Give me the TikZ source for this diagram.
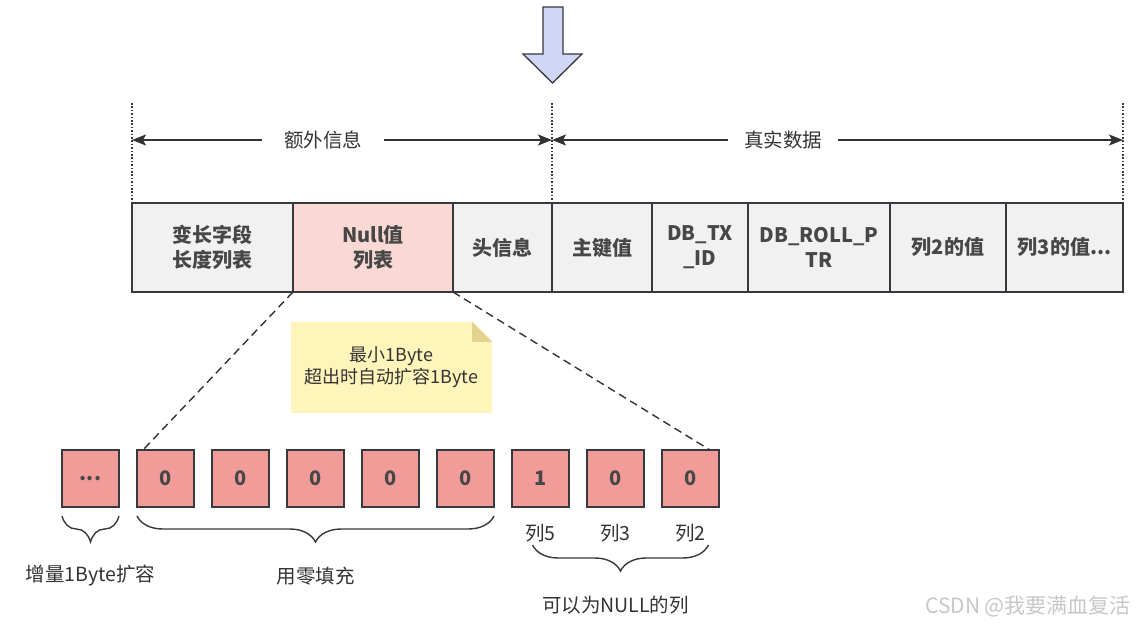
\documentclass[tikz,border=0pt]{standalone}
\usepackage{fontspec}
\setmainfont{Noto Sans CJK SC}
\usetikzlibrary{positioning,arrows.meta,decorations.pathreplacing}
\definecolor{edge}{HTML}{36393D}
\definecolor{cellgray}{HTML}{F1F1F1}
\definecolor{nullpink}{HTML}{FAD9D5}
\definecolor{bitred}{HTML}{F19C99}
\definecolor{arrowblue}{HTML}{D2D6F6}
\definecolor{notefill}{HTML}{FFF5BA}
\definecolor{notefold}{HTML}{E4D38C}
\definecolor{boxtext}{HTML}{474747}
\definecolor{labeltext}{HTML}{333333}
\begin{document}
\begin{tikzpicture}[x=1pt,y=-1pt,
    field/.style={draw=edge, line width=1.3pt, fill=cellgray, minimum height=89pt, outer sep=0pt, inner sep=2pt, align=center, text=boxtext, font=\fontsize{20pt}{25pt}\selectfont\bfseries},
    bit/.style={draw=edge, line width=1.3pt, fill=bitred, minimum size=57pt, outer sep=0pt, inner sep=0pt, text=boxtext, font=\fontsize{20pt}{24pt}\selectfont\bfseries},
    lbl/.style={text=labeltext, font=\fontsize{19.5pt}{23pt}\selectfont},
    dim/.style={line width=1.4pt, draw=labeltext, {Stealth[length=14pt,width=11pt,inset=3pt]}-{Stealth[length=14pt,width=11pt,inset=3pt]}},
    guide/.style={draw=edge, line width=1.6pt, dash pattern=on 1.6pt off 1.8pt},
    brc/.style={draw=edge, line width=1.4pt, decorate, decoration={brace, mirror, amplitude=26pt}}
]
\useasboundingbox (0,0) rectangle (1138,628);

% big arrow on top
\draw[draw=edge, fill=arrowblue, line width=1.3pt] (543,7) -- (563,7) -- (563,54) -- (582,54) -- (552.5,83) -- (523,54) -- (543,54) -- cycle;

% row record
\node[field, minimum width=161pt, anchor=west] (fld) at (132,247.5) {变长字段\\长度列表};
\node[field, minimum width=160pt, fill=nullpink, right=0pt of fld] (nul) {Null值\\列表};
\node[field, minimum width=99pt, right=0pt of nul] (hdr) {头信息};
\node[field, minimum width=100pt, right=0pt of hdr] (pk) {主键值};
\node[field, minimum width=96pt, right=0pt of pk] (trx) {DB\_TX\\\_ID};
\node[field, minimum width=142pt, right=0pt of trx] (roll) {DB\_ROLL\_P\\TR};
\node[field, minimum width=116pt, right=0pt of roll] (colb) {列2的值};
\node[field, minimum width=117pt, right=0pt of colb] (colc) {列3的值...};

% extra info / real data
\coordinate (gl) at (132,103);
\coordinate (gm) at (552,103);
\coordinate (gr) at (1123,103);
\draw[guide] (gl) -- (fld.north west);
\draw[guide] (gm) -- (pk.north west);
\draw[guide] (gr) -- (colc.north east);
\coordinate (al) at (132,140);
\coordinate (am) at (552,140);
\coordinate (ar) at (1123,140);
\draw[dim] (al) -- (am) node[lbl, pos=0.455, fill=white, inner xsep=22pt] (extra) {额外信息};
\draw[dim] (am) -- (ar) node[lbl, pos=0.405, fill=white, inner xsep=16pt] (real) {真实数据};

% note
\node[fill=notefill, minimum width=201pt, minimum height=91pt, align=center, text=labeltext, font=\fontsize{18pt}{22pt}\selectfont] (note) at (391.5,367.5) {最小1Byte\\超出时自动扩容1Byte};
\fill[white] (note.north east) -- ([xshift=-20pt]note.north east) -- ([yshift=-20pt]note.north east) -- cycle;
\fill[notefold] ([xshift=-20pt]note.north east) -- ([xshift=-20pt,yshift=-20pt]note.north east) -- ([yshift=-20pt]note.north east) -- cycle;

% null bitmap
\node[bit] (b0) at (90.5,478.5) {...};
\foreach \v [count=\i] in {0,0,0,0,0,1,0,0}
    \node[bit] (b\i) at (90.5+75*\i,478.5) {\v};

\draw[draw=labeltext, line width=1.4pt, dash pattern=on 8pt off 5pt] (nul.south west) -- ([xshift=6pt]b1.north west);
\draw[draw=labeltext, line width=1.4pt, dash pattern=on 8pt off 5pt] (nul.south east) -- ([xshift=-9pt]b8.north east);

\node[lbl] (c5) at (b6 |- 0,533) {列5};
\node[lbl] (c3) at (b7 |- 0,533) {列3};
\node[lbl] (c2) at (b8 |- 0,533) {列2};

\draw[brc] ([yshift=-9pt]b0.south west) -- ([yshift=-9pt]b0.south east);
\draw[brc] ([yshift=-9pt]b1.south west) -- ([yshift=-9pt]b5.south east);
\draw[brc] ([xshift=-8pt,yshift=-38pt]b6.south) -- ([xshift=18pt,yshift=-38pt]b8.south);

\node[lbl] (grow) at (b0 |- 0,576) {增量1Byte扩容};
\node[lbl] (fill) at (b3 |- 0,576) {用零填充};
\node[lbl] (nullable) at (b7 |- 0,605) {可以为NULL的列};

\node[font=\fontsize{21pt}{24pt}\selectfont, text=black!22] (mark) at (1028,606) {CSDN @我要满血复活};
\end{tikzpicture}
\end{document}
